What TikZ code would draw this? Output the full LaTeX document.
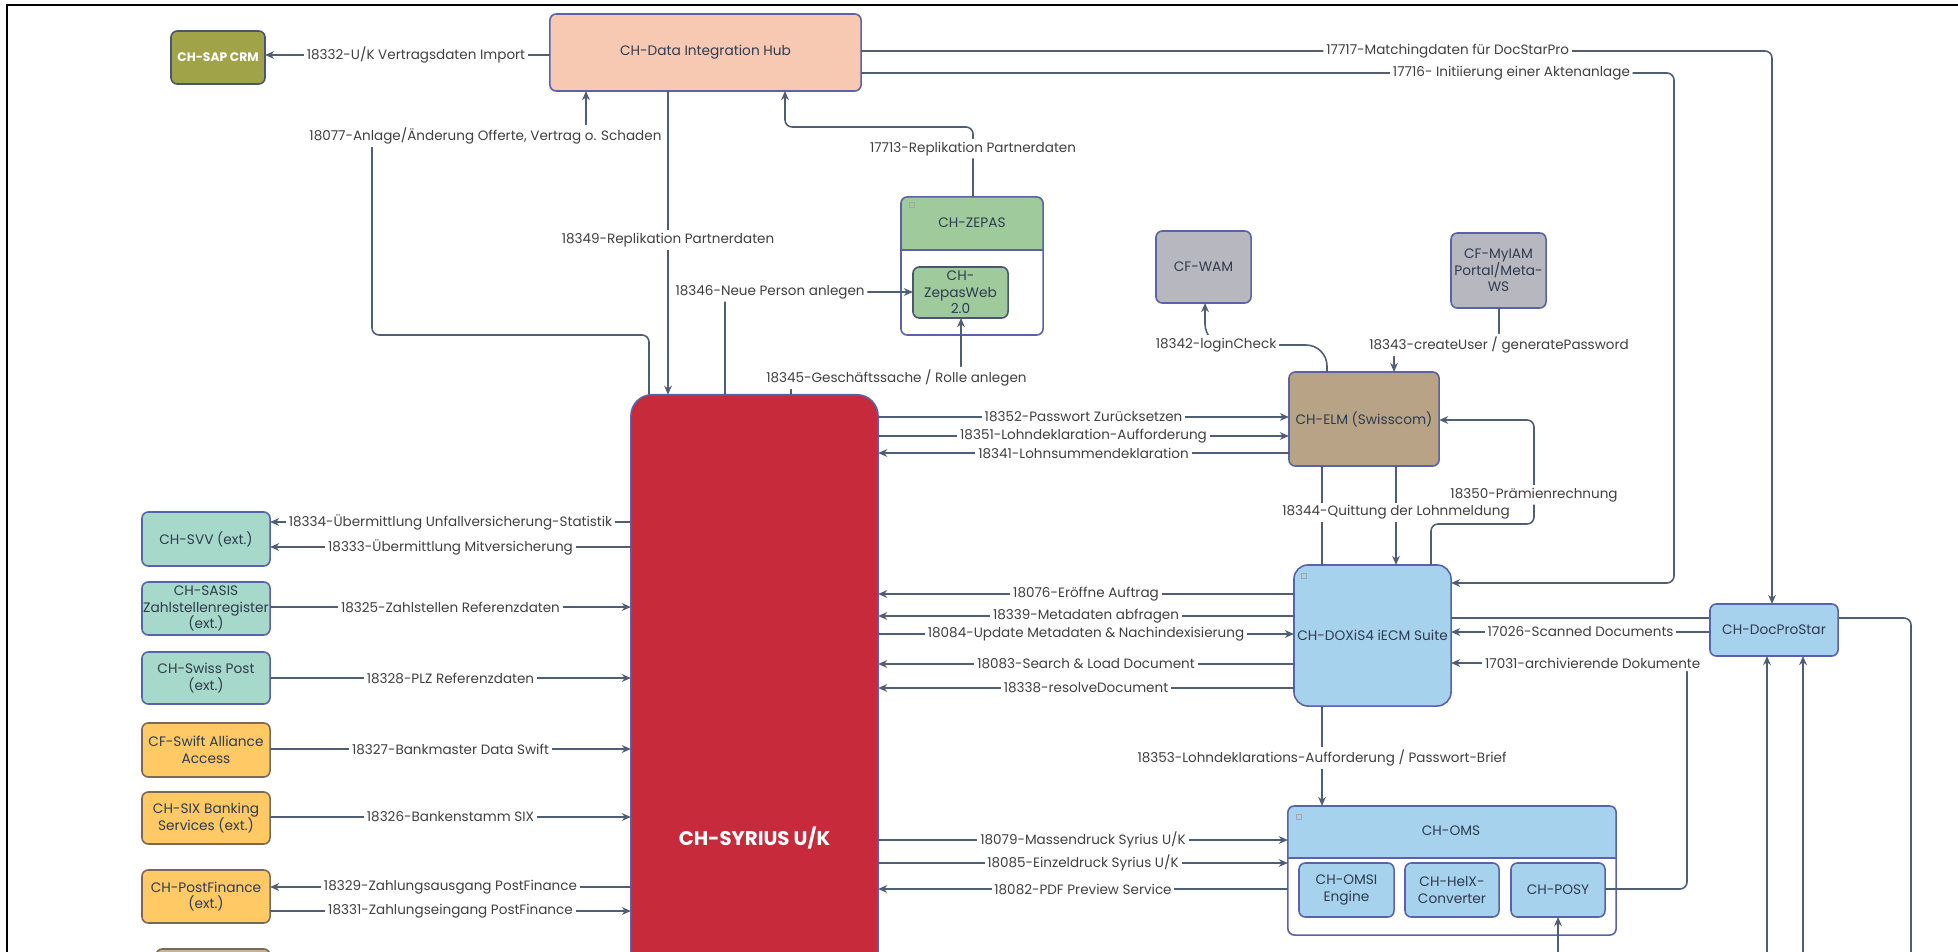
\documentclass[tikz,border=0pt]{standalone}
\usepackage{fontspec}
\setmainfont{Poppins}
\usetikzlibrary{arrows.meta}
\definecolor{conn}{HTML}{4F5D75}
\definecolor{bordc}{HTML}{5A62A8}
\definecolor{darkbord}{HTML}{4A5670}
\definecolor{txtc}{HTML}{2F3B4E}
\definecolor{lblc}{HTML}{404040}
\definecolor{hubfill}{HTML}{F8C9B2}
\definecolor{sapfill}{HTML}{A0A348}
\definecolor{zgreen}{HTML}{9FCB9C}
\definecolor{greybox}{HTML}{B7B7BF}
\definecolor{syrred}{HTML}{C72A3A}
\definecolor{elmfill}{HTML}{B8A386}
\definecolor{bluefill}{HTML}{A7D2EE}
\definecolor{tealfill}{HTML}{A6D9C9}
\definecolor{orangefill}{HTML}{FFC966}
\definecolor{tanfill}{HTML}{C6B496}
\definecolor{orbord}{HTML}{7A6A55}
\newcommand\bxfont{\fontsize{3.9}{4.7}\selectfont}
\newcommand\lblfont{\fontsize{3.85}{4.4}\selectfont}
\newcommand\syrfont{\fontsize{5.6}{6.5}\selectfont\bfseries}
\newcommand\bx[7]{%
  \pgfmathsetmacro\bxcx{(#3+#5)/2}%
  \pgfmathsetmacro\bxcy{(#4+#6)/2}%
  \pgfmathsetmacro\bxw{(#5-#3)/100}%
  \pgfmathsetmacro\bxh{(#6-#4)/100}%
  \node[#2,minimum width=\bxw cm,minimum height=\bxh cm] (#1) at (\bxcx,\bxcy) {#7};}
\begin{document}
\begin{tikzpicture}[x=0.01cm,y=-0.01cm,
  box/.style={draw=bordc,line width=0.45pt,rounded corners=1.8pt,inner sep=0pt,outer sep=0pt,align=center,font=\bxfont,text=txtc},
  lbl/.style={fill=white,inner sep=0.8pt,font=\lblfont,text=lblc},
  hdr/.style={font=\bxfont,text=txtc,inner sep=0pt},
  arr/.style={draw=conn,line width=0.45pt,-{Stealth[length=2.6pt,width=2.2pt]}},
  ln/.style={draw=conn,line width=0.45pt},
  rc/.style={rounded corners=2pt}]
\useasboundingbox (0,0) rectangle (1958,952);
\clip (0,0) rectangle (1958,952);
\draw[line width=0.6pt,black] (7,970) -- (7,5) -- (1970,5);

% ---------- nodes ----------
\bx{hub}{box,fill=hubfill}{550}{14}{861}{91}{CH-Data Integration Hub}
\bx{sap}{box,fill=sapfill,draw=darkbord,text=white,font=\fontsize{3.5}{4.2}\selectfont\bfseries}{171}{31}{265}{84}{CH-SAP CRM}

% ZEPAS container
\fill[white,rounded corners=1.8pt] (901,197) rectangle (1043,335);
\begin{scope}
  \clip (890,190) rectangle (1050,250);
  \fill[zgreen,rounded corners=1.8pt] (901,197) rectangle (1043,335);
\end{scope}
\draw[bordc,line width=0.45pt] (901,250) -- (1043,250);
\bx{zepas}{box,fill=none}{901}{197}{1043}{335}{}
\node[hdr] (zepashd) at (972,223) {CH-ZEPAS};
\draw[gray!70,line width=0.2pt] (909,202) rectangle (914,207);
\bx{zweb}{box,fill=zgreen,draw=darkbord}{913}{267}{1008}{318}{CH-\\ZepasWeb\\2.0}

\bx{wam}{box,fill=greybox}{1156}{231}{1251}{303}{CF-WAM}
\bx{myiam}{box,fill=greybox}{1451}{233}{1546}{308}{CF-MyIAM\\Portal/Meta-\\WS}

\bx{syr}{box,fill=syrred,rounded corners=6pt,text=white,font=\syrfont}{631}{395}{878}{1281}{CH-SYRIUS U/K}

\bx{svv}{box,fill=tealfill}{142}{512}{270}{566}{CH-SVV (ext.)}
\bx{sasis}{box,fill=tealfill}{142}{582}{270}{635}{CH-SASIS\\Zahlstellenregister\\(ext.)}
\bx{post}{box,fill=tealfill}{142}{652}{270}{704}{CH-Swiss Post\\(ext.)}
\bx{swift}{box,fill=orangefill,draw=orbord}{142}{723}{270}{777}{CF-Swift Alliance\\Access}
\bx{six}{box,fill=orangefill,draw=orbord}{142}{792}{270}{844}{CH-SIX Banking\\Services (ext.)}
\bx{pf}{box,fill=orangefill,draw=orbord}{142}{870}{270}{923}{CH-PostFinance\\(ext.)}
\bx{tanb}{box,fill=tanfill,draw=orbord}{156}{949}{270}{1010}{}

\bx{elm}{box,fill=elmfill}{1289}{372}{1439}{466}{CH-ELM (Swisscom)}
\bx{doxis}{box,fill=bluefill,rounded corners=4pt}{1294}{565}{1451}{706}{CH-DOXiS4 iECM Suite}
\draw[gray!70,line width=0.2pt] (1301,573) rectangle (1306,578);

% OMS container
\fill[white,rounded corners=1.8pt] (1288,806) rectangle (1616,935);
\begin{scope}
  \clip (1280,800) rectangle (1625,858);
  \fill[bluefill,rounded corners=1.8pt] (1288,806) rectangle (1616,935);
\end{scope}
\draw[bordc,line width=0.45pt] (1288,858) -- (1616,858);
\bx{oms}{box,fill=none}{1288}{806}{1616}{935}{}
\node[hdr] (omshd) at (1451,831) {CH-OMS};
\draw[gray!70,line width=0.2pt] (1296,814) rectangle (1301,819);
\bx{omsi}{box,fill=bluefill}{1299}{863}{1394}{917}{CH-OMSI\\Engine}
\bx{helx}{box,fill=bluefill}{1405}{863}{1499}{917}{CH-HelX-\\Converter}
\bx{posy}{box,fill=bluefill}{1511}{863}{1605}{917}{CH-POSY}

% ---------- connectors ----------
\draw[arr] (hub.west |- 0,55) -- node[lbl,pos=0.47] (l18332) {18332-U/K Vertragsdaten Import} (sap.east |- 0,55);
\draw[arr,rc] (syr.north -| 649,0) -- (649,335) -- (372,335) -- (372,136) -- node[lbl,pos=0.53] (l18077) {18077-Anlage/Änderung Offerte, Vertrag o. Schaden} (586,136) -- (hub.south -| 586,0);
\draw[arr] (hub.south -| 668,0) -- node[lbl,pos=0.49] (l18349) {18349-Replikation Partnerdaten} (syr.north -| 668,0);
\draw[arr,rc] (syr.north -| 725,0) -- (725,292) -- node[lbl,pos=0.24] (l18346) {18346-Neue Person anlegen} (zweb.west |- 0,292);
\draw[arr,rc] (syr.north -| 791,0) -- (791,378) -- node[lbl,pos=0.62] (l18345) {18345-Geschäftssache / Rolle anlegen} (961,378) -- (zweb.south -| 961,0);
\draw[arr,rc] (zepas.north -| 973,0) -- node[lbl,pos=0.69] (l17713) {17713-Replikation Partnerdaten} (973,127) -- (785,127) -- (hub.south -| 785,0);
\draw[arr,rc] (hub.east |- 0,51) -- node[lbl,pos=0.644] (l17717) {17717-Matchingdaten für DocStarPro} (1772,51) -- (1772,604);
\draw[arr,rc] (hub.east |- 0,73) -- node[lbl,pos=0.80] (l17716) {17716- Initiierung einer Aktenanlage} (1674,73) -- (1674,583) -- (doxis.east |- 0,583);

\draw[arr,rounded corners=6pt] (elm.north -| 1327,0) -- (1327,345) -- node[lbl,pos=0.91] (l18342) {18342-loginCheck} (1205,345) -- (wam.south -| 1205,0);
\draw[arr,rc] (myiam.south -| 1499,0) -- node[lbl,pos=1] (l18343) {18343-createUser / generatePassword} (1499,345) -- (1394,345) -- (elm.north -| 1394,0);

\draw[arr] (syr.east |- 0,417) -- node[lbl] (l18352) {18352-Passwort Zurücksetzen} (elm.west |- 0,417);
\draw[arr] (syr.east |- 0,436) -- node[lbl] (l18351) {18351-Lohndeklaration-Aufforderung} (elm.west |- 0,436);
\draw[arr] (elm.west |- 0,453) -- node[lbl] (l18341) {18341-Lohnsummendeklaration} (syr.east |- 0,453);

\draw[arr] (syr.west |- 0,522) -- node[lbl] (l18334) {18334-Übermittlung Unfallversicherung-Statistik} (svv.east |- 0,522);
\draw[arr] (syr.west |- 0,547) -- node[lbl] (l18333) {18333-Übermittlung Mitversicherung} (svv.east |- 0,547);
\draw[arr] (sasis.east |- 0,607) -- node[lbl] (l18325) {18325-Zahlstellen Referenzdaten} (syr.west |- 0,607);
\draw[arr] (post.east |- 0,678) -- node[lbl] (l18328) {18328-PLZ Referenzdaten} (syr.west |- 0,678);
\draw[arr] (swift.east |- 0,749) -- node[lbl] (l18327) {18327-Bankmaster Data Swift} (syr.west |- 0,749);
\draw[arr] (six.east |- 0,817) -- node[lbl] (l18326) {18326-Bankenstamm SIX} (syr.west |- 0,817);
\draw[arr] (syr.west |- 0,887) -- node[lbl] (l18329) {18329-Zahlungsausgang PostFinance} (pf.east |- 0,887);
\draw[arr] (pf.east |- 0,911) -- node[lbl] (l18331) {18331-Zahlungseingang PostFinance} (syr.west |- 0,911);

\draw[ln] (elm.south -| 1322,0) -- (doxis.north -| 1322,0);
\draw[arr] (elm.south -| 1396,0) -- node[lbl,pos=0.47] (l18344) {18344-Quittung der Lohnmeldung} (doxis.north -| 1396,0);
\draw[arr,rc] (doxis.north -| 1431,0) -- (1431,524) -- (1534,524) -- node[lbl,pos=0.28] (l18350) {18350-Prämienrechnung} (1534,420) -- (elm.east |- 0,420);

\draw[arr] (doxis.west |- 0,594) -- node[lbl] (l18076) {18076-Eröffne Auftrag} (syr.east |- 0,594);
\draw[arr] (doxis.west |- 0,616) -- node[lbl] (l18339) {18339-Metadaten abfragen} (syr.east |- 0,616);
\draw[arr] (syr.east |- 0,634) -- node[lbl] (l18084) {18084-Update Metadaten \& Nachindexisierung} (doxis.west |- 0,634);
\draw[arr] (doxis.west |- 0,664) -- node[lbl] (l18083) {18083-Search \& Load Document} (syr.east |- 0,664);
\draw[arr] (doxis.west |- 0,688) -- node[lbl] (l18338) {18338-resolveDocument} (syr.east |- 0,688);

\draw[arr] (syr.east |- 0,840) -- node[lbl] (l18079) {18079-Massendruck Syrius U/K} (oms.west |- 0,840);
\draw[arr] (syr.east |- 0,863) -- node[lbl] (l18085) {18085-Einzeldruck Syrius U/K} (oms.west |- 0,863);
\draw[arr] (oms.west |- 0,889) -- node[lbl] (l18082) {18082-PDF Preview Service} (syr.east |- 0,889);

\draw[arr] (doxis.south -| 1322,0) -- node[lbl,pos=0.52] (l18353) {18353-Lohndeklarations-Aufforderung / Passwort-Brief} (oms.north -| 1322,0);

% line passing behind DocProStar
\draw[ln,rc] (doxis.east |- 0,618) -- (1911,618) -- (1911,1000);
\bx{dps}{box,fill=bluefill}{1710}{604}{1838}{656}{CH-DocProStar}

\draw[arr] (dps.west |- 0,632) -- node[lbl,pos=0.5] (l17026) {17026-Scanned Documents} (doxis.east |- 0,632);
\draw[arr,rc] (posy.east |- 0,889) -- (1687,889) -- (1687,663) -- node[lbl,pos=0.40] (l17031) {17031-archivierende Dokumente} (doxis.east |- 0,663);

\coordinate (b1) at (1767,1000);
\coordinate (b2) at (1803,1000);
\coordinate (b3) at (1558,1000);
\draw[arr] (b1) -- (dps.south -| b1);
\draw[arr] (b2) -- (dps.south -| b2);
\draw[arr] (b3) -- (posy.south -| b3);
\end{tikzpicture}
\end{document}
